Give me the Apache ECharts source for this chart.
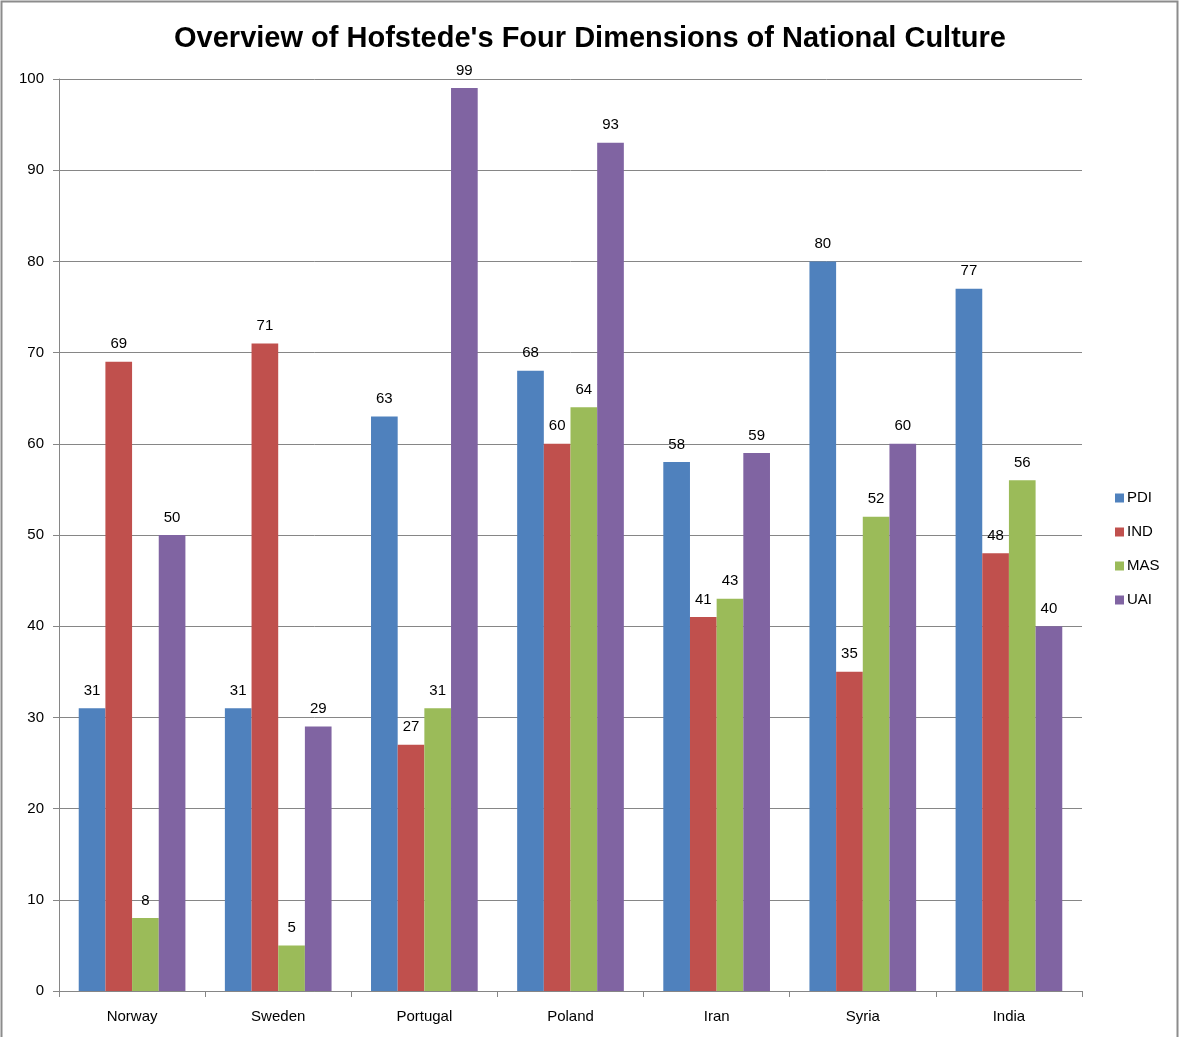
<!DOCTYPE html>
<html>
<head>
<meta charset="utf-8">
<script src="https://cdn.jsdelivr.net/npm/echarts@6/dist/echarts.min.js"></script>
<style>
  html, body { margin: 0; padding: 0; background: #fff; }
  #chart { width: 1180px; height: 1037px; }
</style>
</head>
<body>
<div id="chart"></div>
<script>
// Hofstede scores per country
const countries = ['Norway', 'Sweden', 'Portugal', 'Poland', 'Iran', 'Syria', 'India'];
const pdi = [31, 31, 63, 68, 58, 80, 77];
const ind = [69, 71, 27, 60, 41, 35, 48];
const mas = [8, 5, 31, 64, 43, 52, 56];
const uai = [50, 29, 99, 93, 59, 60, 40];
const seriesNames = ['PDI', 'IND', 'MAS', 'UAI'];
const seriesColors = ['#4F81BD', '#C0504D', '#9BBB59', '#8064A2'];
const yTicks = { min: 0, max: 100, interval: 10 };

const FONT = '"Liberation Sans", Arial, sans-serif';
const axisGray = '#868686';

const chart = echarts.init(document.getElementById('chart'), null, { renderer: 'canvas' });

const makeSeries = (name, data, color) => ({
  name: name,
  type: 'bar',
  data: data,
  barGap: '0%',
  barCategoryGap: '27%',
  itemStyle: { color: color },
  label: {
    show: true,
    position: 'top',
    distance: 10,
    color: '#000',
    fontFamily: FONT,
    fontSize: 15
  }
});

chart.setOption({
  backgroundColor: '#fff',
  animation: false,
  title: {
    text: "Overview of Hofstede's Four Dimensions of National Culture",
    left: 'center',
    top: 19,
    textStyle: { fontFamily: FONT, fontWeight: 'bold', fontSize: 29, color: '#000' }
  },
  graphic: [{
    type: 'rect',
    shape: { x: 1.5, y: 1.5, width: 1176, height: 1040 },
    style: { fill: 'none', stroke: '#8c8c8c', lineWidth: 2 },
    silent: true
  }],
  legend: {
    orient: 'vertical',
    left: 1110,
    top: 484,
    itemWidth: 9,
    itemHeight: 9,
    itemGap: 16,
    icon: 'rect',
    textStyle: { fontFamily: FONT, fontSize: 15, color: '#000', lineHeight: 18, padding: [0, 0, 0, -2] },
    data: seriesNames
  },
  grid: { left: 59, right: 98, top: 79, bottom: 46, containLabel: false },
  xAxis: {
    type: 'category',
    data: countries,
    axisLine: { lineStyle: { color: axisGray, width: 1 } },
    axisTick: { show: true, length: 6, lineStyle: { color: axisGray } },
    axisLabel: { color: '#000', fontFamily: FONT, fontSize: 15, margin: 18 }
  },
  yAxis: {
    type: 'value',
    min: yTicks.min,
    max: yTicks.max,
    interval: yTicks.interval,
    axisLine: { show: true, lineStyle: { color: axisGray, width: 1 } },
    axisTick: { show: true, length: 6, lineStyle: { color: axisGray } },
    axisLabel: { color: '#000', fontFamily: FONT, fontSize: 15, margin: 15 },
    splitLine: { lineStyle: { color: axisGray, width: 1 } }
  },
  series: [
    makeSeries(seriesNames[0], pdi, seriesColors[0]),
    makeSeries(seriesNames[1], ind, seriesColors[1]),
    makeSeries(seriesNames[2], mas, seriesColors[2]),
    makeSeries(seriesNames[3], uai, seriesColors[3])
  ]
});
</script>
</body>
</html>
